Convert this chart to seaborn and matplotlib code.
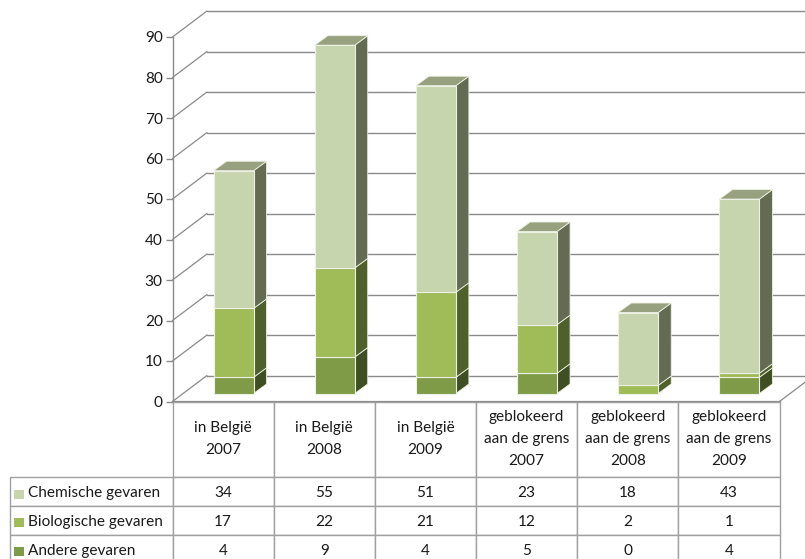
import seaborn as sns
import matplotlib.pyplot as plt
import pandas as pd
from matplotlib.patches import Polygon, Rectangle
from matplotlib.transforms import Affine2D

sns.set_style("white")
plt.rcParams["font.family"] = ["Lato", "DejaVu Sans"]

categories = ["in België\n2007", "in België\n2008", "in België\n2009",
              "geblokeerd\naan de grens\n2007", "geblokeerd\naan de grens\n2008",
              "geblokeerd\naan de grens\n2009"]
chemisch = [34, 55, 51, 23, 18, 43]
biologisch = [17, 22, 21, 12, 2, 1]
andere = [4, 9, 4, 5, 0, 4]
yticks = list(range(0, 100, 10))

# bottom to top: label, front, side, top
series = [("Andere gevaren", andere, "#7F9B48", "#404E24", "#7F9B48"),
          ("Biologische gevaren", biologisch, "#9FBC59", "#50602D", "#9FBC59"),
          ("Chemische gevaren", chemisch, "#C6D5AD", "#636B53", "#98A17F")]

W, H = 805, 559
grey = "#8A8A8A"
text_col = "#1a1a1a"
fs = 11.1

fig = plt.figure(figsize=(W / 100, H / 100), dpi=100)
# axes box is the front plane of the fake 3d chart
left, right, y0, y90 = 172.5, 779.5, 401.5, 37.0
ax = fig.add_axes([left / W, 1 - y0 / H, (right - left) / W, (y0 - y90) / H])

df = pd.DataFrame({"cat": categories})
bottom = [0] * len(categories)
bar_shift = ax.transData + Affine2D().translate(10.5, 8)
for name, vals, front, side, top in series:
    n0 = len(ax.patches)
    df["val"] = vals
    sns.barplot(data=df, x="cat", y="val", color=front, saturation=1, width=0.395,
                bottom=bottom, ax=ax, zorder=5, edgecolor="#EDF1E4", linewidth=0.8)
    for p in ax.patches[n0:]:
        p.set_transform(bar_shift)
        p.set_clip_on(False)
    bottom = [b + v for b, v in zip(bottom, vals)]

ax.set_xlim(-0.5, 5.5)
ax.set_ylim(0, 90)

# side and top faces, worked out from the bars seaborn drew
dx = 13 / ((right - left) / 6)
dy = 9.5 / ((y0 - y90) / 90)
bars = list(ax.patches)
n_cat = len(categories)
for k, (name, vals, front, side, top) in enumerate(series):
    for p, v in zip(bars[k * n_cat:(k + 1) * n_cat], vals):
        if v == 0:
            continue
        xr = p.get_x() + p.get_width()
        xl = p.get_x()
        yb, yt = p.get_y(), p.get_y() + p.get_height()
        ax.add_patch(Polygon([(xr, yb), (xr + dx, yb + dy), (xr + dx, yt + dy), (xr, yt)],
                             facecolor=side, edgecolor="#EDF1E4", linewidth=0.6,
                             transform=bar_shift, clip_on=False, zorder=4))
        if k == len(series) - 1:
            ax.add_patch(Polygon([(xl, yt), (xr, yt), (xr + dx, yt + dy), (xl + dx, yt + dy)],
                                 facecolor=top, edgecolor="#EDF1E4", linewidth=0.6,
                                 transform=bar_shift, clip_on=False, zorder=4))

# walls
wall_shift = ax.transData + Affine2D().translate(34.5, 26)
wall_dx = 34.5 / ((right - left) / 6)
wall_dy = 26 / ((y0 - y90) / 90)
for t in yticks:
    ax.plot([-0.5, 5.9], [t, t], color=grey, lw=1.0, transform=wall_shift, clip_on=False, zorder=1)
    ax.plot([-0.5, -0.5 + wall_dx], [t, t + wall_dy], color=grey, lw=0.9, clip_on=False, zorder=1)
ax.plot([5.5, 5.5 + wall_dx], [0, wall_dy], color=grey, lw=0.9, clip_on=False, zorder=1)

sns.despine(ax=ax, top=True, right=True)
ax.spines["left"].set_color(grey)
ax.spines["left"].set_linewidth(1.0)
ax.spines["bottom"].set_color(grey)
ax.spines["bottom"].set_linewidth(1.6)
ax.set_xlabel("")
ax.set_ylabel("")
ax.set_xticks([])
ax.set_yticks(yticks)
ax.tick_params(axis="y", left=True, length=5, width=1, color=grey, labelsize=fs, labelcolor=text_col, pad=2)

# data table under the plot
row_edges = [401.5, 477, 506, 534.5, 565]
tab_left = 9.5
cell_text = [[""] + categories]
for name, vals, *_ in reversed(series):
    cell_text.append([name] + [str(v) for v in vals])
ax_w, ax_h = right - left, y0 - y90
tab = ax.table(cellText=cell_text, cellLoc="center", zorder=3,
               bbox=[(tab_left - left) / ax_w, (y0 - row_edges[-1]) / ax_h,
                     (right - tab_left) / ax_w, (row_edges[-1] - row_edges[0]) / ax_h])
tab.auto_set_font_size(False)
tab.set_fontsize(fs)
label_w = (left - tab_left) / ax_w
for (r, c), cell in tab.get_celld().items():
    cell.set_height((row_edges[r + 1] - row_edges[r]) / ax_h)
    cell.set_width(label_w if c == 0 else (1.0 / 6))
    cell.set_edgecolor("#A0A0A0")
    cell.set_linewidth(1.0)
    cell.get_text().set_color(text_col)
    cell.get_text().set_linespacing(1.72)
    if r > 0:
        cell.get_text().set_va("center_baseline")
    if c == 0:
        cell.PAD = 18.5 / (left - tab_left)
        cell.get_text().set_ha("left")
        cell._loc = "left"
tab[(0, 0)].visible_edges = ""

# legend keys inside the row label cells
for (name, vals, front, *_), yc in zip(reversed(series), [494.5, 522.5, 551.5]):
    ax.add_patch(Rectangle(((14 - left) / ax_w, (y0 - yc - 4.75) / ax_h), 9.5 / ax_w, 9.5 / ax_h,
                           facecolor=front, edgecolor="none", transform=ax.transAxes,
                           clip_on=False, zorder=6))

plt.savefig("out.png", dpi=100)
